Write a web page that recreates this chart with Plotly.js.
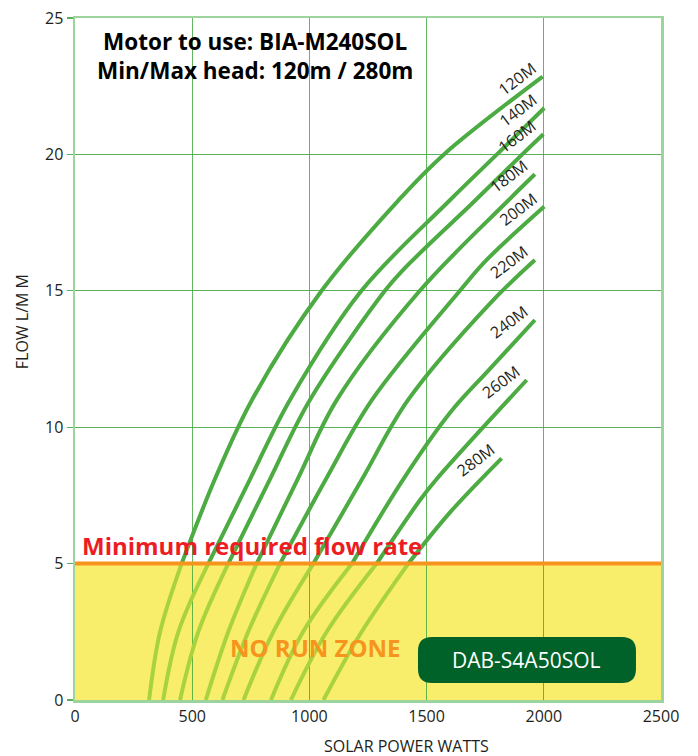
<!DOCTYPE html>
<html>
<head>
<meta charset="utf-8">
<script src="https://cdn.plot.ly/plotly-3.0.1.min.js"></script>
<style>
  html, body { margin: 0; padding: 0; background: #ffffff; }
  #chart { width: 698px; height: 756px; }
</style>
</head>
<body>
<div id="chart"></div>
<script>
// ---- Data ----
const heads = ['120M', '140M', '160M', '180M', '200M', '220M', '240M', '260M', '280M'];

const p120 = [316, 363, 455, 597, 755, 1052, 1378, 1574, 1995];
const f120 = [0, 2.5, 5, 8.1, 11, 15, 18.3, 20, 22.85];

const p140 = [376, 441, 569, 747, 917, 1222, 1597, 1800, 2002];
const f140 = [0, 2.5, 5, 8.1, 11, 15, 18.3, 20, 21.7];

const p160 = [448, 526, 654, 832, 1002, 1322, 1400, 1706, 1908, 1998];
const f160 = [0, 2.5, 5, 8.1, 11, 15, 15.77, 18.3, 20, 20.74];

const p180 = [558, 654, 775, 950, 1117, 1471, 1847, 1962];
const f180 = [0, 2.5, 5, 8.1, 11, 15, 18.3, 19.27];

const p200 = [629, 739, 875, 1071, 1267, 1642, 1756, 2002];
const f200 = [0, 2.5, 5, 8.1, 11, 15, 16.13, 18.09];

const p220 = [719, 846, 1017, 1225, 1421, 1772, 1962];
const f220 = [0, 2.5, 5, 8.1, 11, 14.55, 16.13];

const p240 = [836, 973, 1182, 1401, 1600, 1766, 1962];
const f240 = [0, 2.5, 5, 8.1, 10.53, 12.1, 13.93];

const p260 = [921, 1074, 1287, 1472, 1543, 1927];
const f260 = [0, 2.5, 5, 7.33, 8.1, 11.73];

const p280 = [1060, 1223, 1422, 1600, 1820];
const f280 = [0, 2.5, 5, 6.88, 8.86];

const minFlow = 5;
const xTicks = [0, 500, 1000, 1500, 2000, 2500];
const yTicks = [0, 5, 10, 15, 20, 25];

const titleLine1 = 'Motor to use: BIA-M240SOL';
const titleLine2 = 'Min/Max head: 120m / 280m';
const minLabel = 'Minimum required flow rate';
const zoneLabel = 'NO RUN ZONE';
const pumpLabel = 'DAB-S4A50SOL';
const xTitle = 'SOLAR POWER WATTS';
const yTitle = 'FLOW L/M M';

// ---- Styles ----
const FONT = 'Open Sans, Noto Sans, Liberation Sans, sans-serif';
const DARK_GREEN = '#4cab42';
const LIGHT_GREEN = '#a9d33d';
const YELLOW = '#f8ee6c';
const ORANGE = '#f7941d';
const RED = '#ed1c24';
const BOX_GREEN = '#006229';
const TXT = '#231f20';

const powerSeries = [p120, p140, p160, p180, p200, p220, p240, p260, p280];
const flowSeries = [f120, f140, f160, f180, f200, f220, f240, f260, f280];

const traces = [];
const annotations = [];

powerSeries.forEach((px, i) => {
  const fy = flowSeries[i];
  const lowX = [], lowY = [], upX = [], upY = [];
  for (let k = 0; k < px.length; k++) {
    if (fy[k] <= minFlow) { lowX.push(px[k]); lowY.push(fy[k]); }
    if (fy[k] >= minFlow) { upX.push(px[k]); upY.push(fy[k]); }
  }
  traces.push({
    x: lowX, y: lowY, type: 'scatter', mode: 'lines',
    line: { color: LIGHT_GREEN, width: 4, shape: 'spline', smoothing: 1 },
    hoverinfo: 'skip', showlegend: false
  });
  traces.push({
    x: upX, y: upY, type: 'scatter', mode: 'lines',
    line: { color: DARK_GREEN, width: 4, shape: 'spline', smoothing: 1 },
    hoverinfo: 'skip', showlegend: false
  });
  annotations.push({
    x: px[px.length - 1], y: fy[fy.length - 1], xref: 'x', yref: 'y',
    xanchor: 'center', yanchor: 'middle',
    text: heads[i], showarrow: false, textangle: -37,
    xshift: -26, yshift: -2,
    font: { family: FONT, size: 16, color: TXT }
  });
});

function paperText(x, y, text, size, color, extra) {
  return Object.assign({
    xref: 'paper', yref: 'paper', x: x, y: y, text: text,
    xanchor: 'center', yanchor: 'middle', showarrow: false,
    font: { family: FONT, size: size, color: color }
  }, extra || {});
}

annotations.push(
  paperText(0.307, 0.944, '<b>' + titleLine1 + '</b><br><b>' + titleLine2 + '</b>', 22.5, '#000'),
  paperText(0.302, 0.227, '<b>' + minLabel + '</b>', 24, RED),
  paperText(0.411, 0.077, '<b>' + zoneLabel + '</b>', 24, ORANGE),
  paperText(0.771, 0.059, pumpLabel, 21, '#ffffff'),
  paperText(0.565, -0.0674, xTitle, 16, TXT),
  paperText(-0.0904, 0.554, yTitle, 16, TXT, { textangle: -90 })
);

// Rounded box path in paper coords
function roundedRect(x0, y0, x1, y1, rpx, W, H) {
  const rx = rpx / W, ry = rpx / H;
  return `M ${x0 + rx},${y0} L ${x1 - rx},${y0} Q ${x1},${y0} ${x1},${y0 + ry} ` +
         `L ${x1},${y1 - ry} Q ${x1},${y1} ${x1 - rx},${y1} L ${x0 + rx},${y1} ` +
         `Q ${x0},${y1} ${x0},${y1 - ry} L ${x0},${y0 + ry} Q ${x0},${y0} ${x0 + rx},${y0} Z`;
}

const layout = {
  width: 698, height: 756,
  margin: { l: 75, r: 37, t: 18, b: 56 },
  paper_bgcolor: '#ffffff', plot_bgcolor: '#ffffff',
  showlegend: false,
  font: { family: FONT, color: TXT },
  xaxis: {
    range: [0, 2500], tickvals: xTicks, ticktext: xTicks.map(String),
    showgrid: true, gridcolor: 'rgba(60,165,60,0.8)', gridwidth: 1.3,
    zeroline: false, showline: true, mirror: true,
    linecolor: 'rgba(60,170,60,0.5)', linewidth: 2.5,
    ticks: '', tickfont: { family: FONT, size: 16, color: TXT }
  },
  yaxis: {
    range: [0, 25], tickvals: yTicks, ticktext: yTicks.map(String),
    showgrid: true, gridcolor: 'rgba(60,165,60,0.85)', gridwidth: 1.3,
    zeroline: false, showline: true, mirror: true,
    linecolor: 'rgba(60,170,60,0.5)', linewidth: 2.5,
    ticks: 'outside', ticklen: 6, tickwidth: 1.3, tickcolor: 'rgba(60,165,60,0.85)',
    tickfont: { family: FONT, size: 16, color: TXT }
  },
  shapes: [
    { type: 'rect', xref: 'x', yref: 'y', x0: 0, x1: 2500, y0: 0, y1: minFlow,
      fillcolor: YELLOW, line: { width: 0 }, layer: 'below' },
    { type: 'line', xref: 'x', yref: 'y', x0: 0, x1: 2500, y0: minFlow, y1: minFlow,
      line: { color: ORANGE, width: 4 }, layer: 'above' },
    { type: 'path', xref: 'paper', yref: 'paper',
      path: roundedRect(0.5853, 0.0249, 0.9573, 0.0924, 14, 586, 682),
      fillcolor: BOX_GREEN, line: { width: 0 }, layer: 'above' }
  ],
  annotations: annotations
};

Plotly.newPlot('chart', traces, layout, { staticPlot: true, displayModeBar: false });
</script>
</body>
</html>
